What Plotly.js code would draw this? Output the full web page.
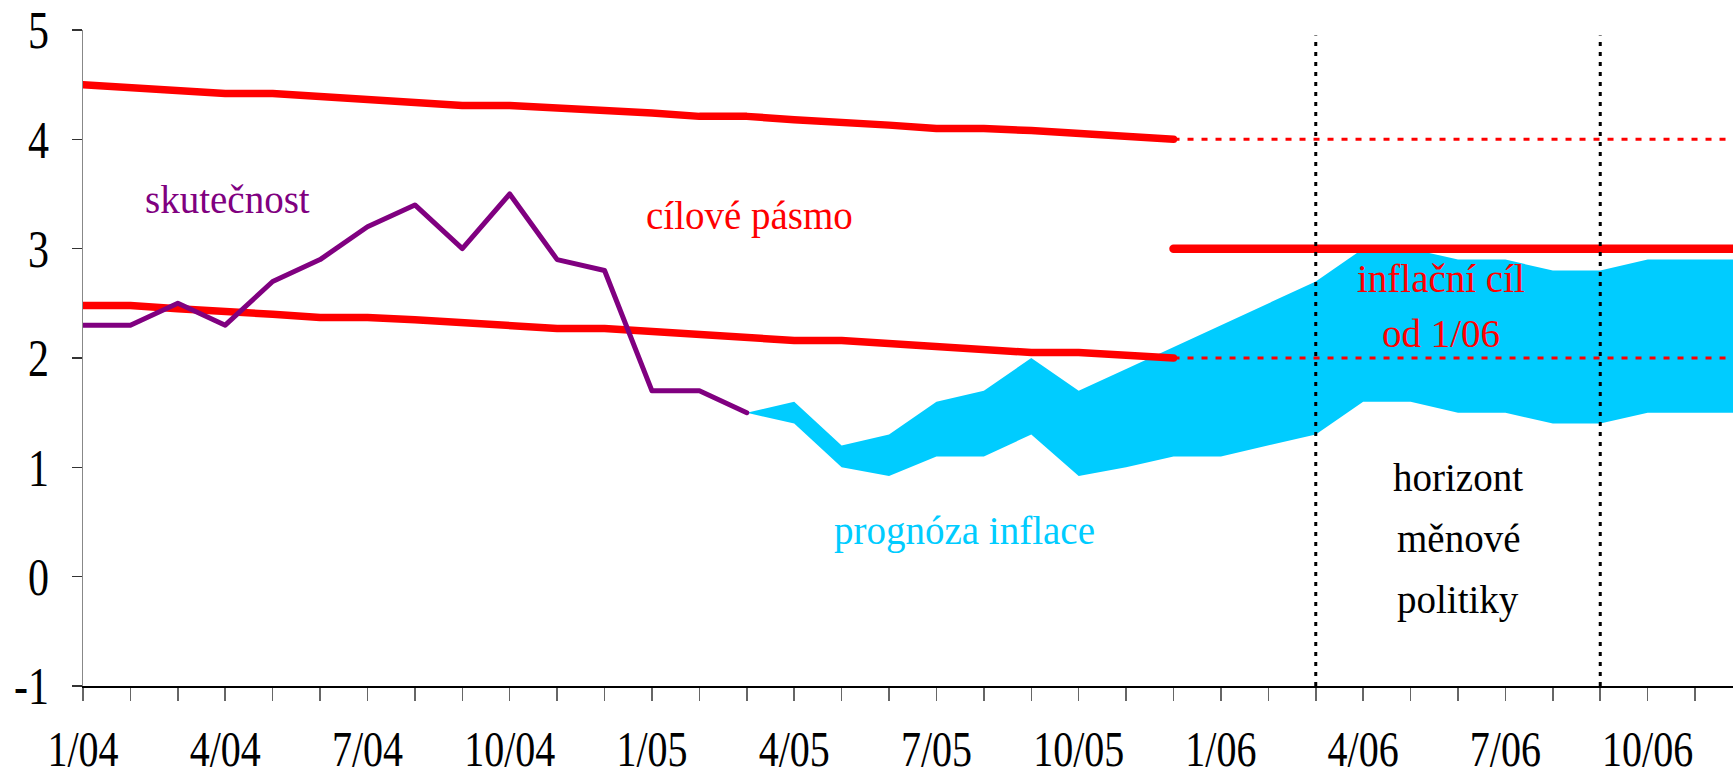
<!DOCTYPE html>
<html>
<head>
<meta charset="utf-8">
<script src="https://cdn.plot.ly/plotly-3.0.1.min.js"></script>
<style>
html,body{margin:0;padding:0;background:#fff;}
#chart{width:1733px;height:779px;}
</style>
</head>
<body>
<div id="chart"></div>
<script>
// Month categories (1/04 .. 12/06)
const months = ["1/04","2/04","3/04","4/04","5/04","6/04","7/04","8/04","9/04","10/04","11/04","12/04",
                "1/05","2/05","3/05","4/05","5/05","6/05","7/05","8/05","9/05","10/05","11/05","12/05",
                "1/06","2/06","3/06","4/06","5/06","6/06","7/06","8/06","9/06","10/06","11/06","12/06"];

// Y tick values and labels
const yTicks = [-1, 0, 1, 2, 3, 4, 5];
const yTickText = ["-1", "0", "1", "2", "3", "4", "5"];

// Declining target band (1/04 .. 12/05)
const bandUpper = [4.50,4.47,4.45,4.42,4.42,4.39,4.37,4.34,4.31,4.31,4.29,4.26,
                   4.24,4.21,4.21,4.18,4.16,4.13,4.10,4.10,4.08,4.05,4.03,4.00];
const bandLower = [2.48,2.48,2.45,2.43,2.40,2.37,2.37,2.35,2.32,2.29,2.27,2.27,
                   2.24,2.21,2.19,2.16,2.16,2.13,2.11,2.08,2.05,2.05,2.03,2.00];

// Actual inflation (1/04 .. 3/05)
const actual = [2.3,2.3,2.5,2.3,2.7,2.9,3.2,3.4,3.0,3.5,2.9,2.8,1.7,1.7,1.5];

// Inflation forecast band (3/05 .. 12/06)
const fcHigh = [1.5,1.6,1.2,1.3,1.6,1.7,2.0,1.7,1.9,2.1,2.3,2.5,2.7,3.0,3.0,2.9,2.9,2.8,2.8,2.9,2.9,2.9];
const fcLow  = [1.5,1.4,1.0,0.92,1.1,1.1,1.3,0.92,1.0,1.1,1.1,1.2,1.3,1.6,1.6,1.5,1.5,1.4,1.4,1.5,1.5,1.5];

// Inflation target from 1/06 (drawn from 12/05) with tolerance band
const targetStart = "12/05";
const target = 3, targetBandHigh = 4, targetBandLow = 2;

// Monetary policy horizon
const horizon = ["3/06","9/06"];

const idx = m => months.indexOf(m);
const range = (a, n) => Array.from({length:n}, (_, i) => a + i);

const fcStart = idx("3/05");
const fcX = range(fcStart, fcHigh.length);
const tS = idx(targetStart);
const tX = range(tS, months.length - tS);

const RED = "#FF0000", PURPLE = "#800080", CYAN = "#00CCFF";
const FONT = "Liberation Serif, Times New Roman, serif";

const traces = [
  {x: fcX, y: fcLow, mode: "lines", line: {width: 0, color: CYAN}, hoverinfo: "skip", showlegend: false},
  {x: fcX, y: fcHigh, mode: "lines", line: {width: 0, color: CYAN}, fill: "tonexty", fillcolor: CYAN, hoverinfo: "skip", showlegend: false},
  {x: range(0, bandUpper.length), y: bandUpper, mode: "lines", line: {color: RED, width: 7.5}, showlegend: false},
  {x: range(0, bandLower.length), y: bandLower, mode: "lines", line: {color: RED, width: 7.5}, showlegend: false},
  {x: range(0, actual.length), y: actual, mode: "lines", line: {color: PURPLE, width: 5}, showlegend: false},
  {x: tX, y: tX.map(() => targetBandHigh), mode: "lines", line: {color: RED, width: 3, dash: "6px,8px"}, showlegend: false},
  {x: tX, y: tX.map(() => targetBandLow), mode: "lines", line: {color: RED, width: 3, dash: "6px,8px"}, showlegend: false},
  {x: tX, y: tX.map(() => target), mode: "lines", line: {color: RED, width: 8.5}, showlegend: false}
];

const shapes = horizon.map(m => ({
  type: "line", xref: "x", yref: "y", x0: idx(m), x1: idx(m), y0: -1, y1: 4.95,
  line: {color: "#000", width: 3, dash: "4px,6px"}, layer: "above"
}));

const ann = (text, x, y, color) => ({text, x, y, xref: "x", yref: "y", showarrow: false,
  font: {family: FONT, size: 39, color}, xanchor: "center", yanchor: "middle"});

const layout = {
  width: 1733, height: 779,
  margin: {l: 83, r: 0, t: 30, b: 93, pad: 0},
  paper_bgcolor: "#fff", plot_bgcolor: "#fff",
  font: {family: FONT, color: "#000"},
  xaxis: {
    range: [0, 34.8], showgrid: false, zeroline: false,
    showline: true, linecolor: "#000", linewidth: 2,
    tickmode: "array", tickvals: range(0, months.length),
    ticktext: months.map((m, i) => i % 3 === 0 ? m : ""),
    ticks: "outside", ticklen: 13, tickcolor: "#666", tickwidth: 1.5,
    tickfont: {family: FONT, size: 40, color: "#000"}, ticklabelstandoff: 17
  },
  yaxis: {
    range: [-1, 5], showgrid: false, zeroline: false,
    showline: true, linecolor: "#888", linewidth: 1.5,
    tickmode: "array", tickvals: yTicks, ticktext: yTickText,
    ticks: "outside", ticklen: 10, tickcolor: "#333", tickwidth: 1.5,
    tickfont: {family: FONT, size: 42, color: "#000"}, ticklabelstandoff: 14
  },
  shapes,
  annotations: [
    ann("skutečnost", 3.05, 3.45, PURPLE),
    ann("cílové pásmo", 14.05, 3.3, RED),
    ann("inflační cíl", 28.65, 2.73, RED),
    ann("od 1/06", 28.65, 2.22, RED),
    ann("prognóza inflace", 18.6, 0.42, CYAN),
    ann("horizont", 29.0, 0.91, "#000"),
    ann("měnové", 29.0, 0.35, "#000"),
    ann("politiky", 29.0, -0.21, "#000")
  ],
  showlegend: false
};

Plotly.newPlot("chart", traces, layout, {staticPlot: true, displayModeBar: false}).then(gd => {
  // Tall, condensed-looking tick labels as in the reference
  const K = 1.27;
  gd.querySelectorAll("g.xtick text").forEach(t => {
    const bb = t.getBBox();
    const base = bb.y + bb.height * 0.805;
    const tr = t.getAttribute("transform") || "";
    t.setAttribute("transform", tr + ` translate(0,${base}) scale(1,${K}) translate(0,${-base})`);
  });
  gd.querySelectorAll("g.ytick text").forEach(t => {
    const bb = t.getBBox();
    const c = bb.y + bb.height / 2;
    const tr = t.getAttribute("transform") || "";
    t.setAttribute("transform", tr + ` translate(0,${c}) scale(1,${K}) translate(0,${-c})`);
  });
  // Round caps on solid lines
  gd.querySelectorAll(".scatterlayer .trace").forEach((g, i) => {
    if ([2, 3, 4, 7].includes(i)) {
      g.querySelectorAll("path.js-line").forEach(p => {
        p.style.strokeLinecap = "round";
        p.style.strokeLinejoin = "round";
      });
    }
  });
});
</script>
</body>
</html>
